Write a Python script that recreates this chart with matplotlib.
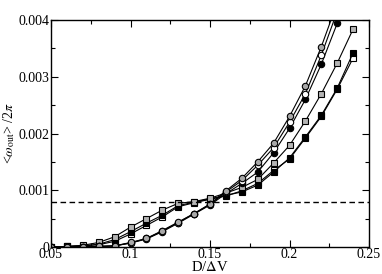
import numpy as np
import matplotlib
matplotlib.use("Agg")
import matplotlib.pyplot as plt
from matplotlib.ticker import MultipleLocator

plt.rcParams['font.family'] = ['Liberation Serif', 'DejaVu Serif']
plt.rcParams['mathtext.fontset'] = 'stix'

# dados
x_circ = [0.05, 0.06, 0.07, 0.08, 0.09, 0.10, 0.11, 0.12, 0.13, 0.14,
          0.15, 0.16, 0.17, 0.18, 0.19, 0.20, 0.21, 0.22, 0.23]
circ_gray = [0, 0, 0, 0.00001, 0.00002, 0.00008, 0.00015, 0.00029, 0.00044, 0.00059,
             0.00076, 0.00099, 0.00121, 0.00150, 0.00183, 0.00230, 0.00284, 0.00353, 0.00430]
circ_white = [0, 0, 0, 0.00001, 0.00002, 0.00007, 0.00015, 0.00028, 0.00043, 0.00059,
              0.00075, 0.00097, 0.00117, 0.00144, 0.00175, 0.00220, 0.00270, 0.00338, 0.00415]
circ_black = [0, 0, 0, 0.00001, 0.00002, 0.00007, 0.00014, 0.00027, 0.00042, 0.00058,
              0.00074, 0.00094, 0.00112, 0.00132, 0.00166, 0.00209, 0.00260, 0.00322, 0.00394]

x_sq = [0.05, 0.06, 0.07, 0.08, 0.09, 0.10, 0.11, 0.12, 0.13, 0.14,
        0.15, 0.16, 0.17, 0.18, 0.19, 0.20, 0.21, 0.22, 0.23, 0.24]
sq_gray = [0, 0.00001, 0.00003, 0.00008, 0.00018, 0.00035, 0.00050, 0.00065, 0.00077, 0.00080,
           0.00086, 0.00095, 0.00105, 0.00119, 0.00148, 0.00179, 0.00222, 0.00270, 0.00324, 0.00384]
sq_black = [0, 0.00001, 0.00002, 0.00005, 0.00013, 0.00027, 0.00042, 0.00056, 0.00073, 0.00079,
            0.00085, 0.00091, 0.00097, 0.00109, 0.00132, 0.00157, 0.00194, 0.00232, 0.00280, 0.00342]
sq_white = [0, 0.00001, 0.00002, 0.00004, 0.00010, 0.00023, 0.00038, 0.00053, 0.00071, 0.00078,
            0.00084, 0.00090, 0.00099, 0.00112, 0.00135, 0.00155, 0.00192, 0.00230, 0.00278, 0.00333]

x_ticks = [0.05, 0.1, 0.15, 0.2, 0.25]
x_ticklabels = ['0.05', '0.1', '0.15', '0.2', '0.25']
y_ticks = [0, 0.001, 0.002, 0.003, 0.004]
y_ticklabels = ['0', '0.001', '0.002', '0.003', '0.004']

threshold = 0.0008

fig = plt.figure(figsize=(3.82, 2.74), dpi=100)
ax = fig.add_axes([0.1335, 0.0985, 0.8325, 0.8285])

ms = 4.6
lw = 0.8
series = [
    (x_sq, sq_white, 's', 'white'),
    (x_sq, sq_black, 's', 'black'),
    (x_sq, sq_gray, 's', '#b4b4b4'),
    (x_circ, circ_black, 'o', 'black'),
    (x_circ, circ_white, 'o', 'white'),
    (x_circ, circ_gray, 'o', '#a8a8a8'),
]
for xs, ys, mk, fc in series:
    ax.plot(xs, ys, color='black', lw=lw, marker=mk, ms=ms,
            mfc=fc, mec='black', mew=0.8)

ax.axhline(threshold, color='black', ls=(0, (4, 2.5)), lw=1.0)

ax.set_xlim(0.05, 0.25)
ax.set_ylim(0, 0.004)
ax.set_xticks(x_ticks)
ax.set_xticklabels(x_ticklabels)
ax.set_yticks(y_ticks)
ax.set_yticklabels(y_ticklabels)
ax.xaxis.set_minor_locator(MultipleLocator(0.025))
ax.yaxis.set_minor_locator(MultipleLocator(0.0005))
ax.tick_params(which='both', direction='in', top=True, right=True, labelsize=10, pad=1)
ax.tick_params(which='major', length=5, width=0.8)
ax.tick_params(which='minor', length=3, width=0.8)
for s in ax.spines.values():
    s.set_linewidth(1.0)

ax.set_xlabel(r'D/$\Delta$V', fontsize=10.5, labelpad=-1)
ax.set_ylabel(r'<$\omega_{\rm out}$> /2$\pi$', fontsize=10, labelpad=1)

fig.savefig('out.png', dpi=100)
